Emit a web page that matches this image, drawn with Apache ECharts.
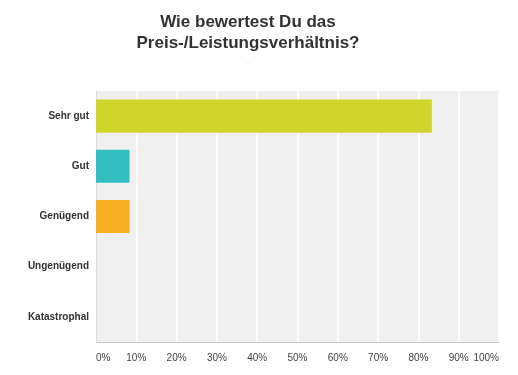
<!DOCTYPE html>
<html>
<head>
<meta charset="utf-8">
<script src="https://cdn.jsdelivr.net/npm/echarts@6/dist/echarts.min.js"></script>
<style>
  html, body { margin: 0; padding: 0; background: #fff; }
  #chart { width: 518px; height: 375px; }
</style>
</head>
<body>
<div id="chart"></div>
<script>
// Antwortkategorien und Anteile (Prozent)
const categories = ['Sehr gut', 'Gut', 'Genügend', 'Ungenügend', 'Katastrophal']
const percentages = [83.33, 8.33, 8.33, 0, 0]
const barColors = ['#cfd52a', '#33bfbf', '#f7ae22', '#9b59b6', '#e74c3c']
const tickStep = 10

const chart = echarts.init(document.getElementById('chart'))

chart.setOption({
  animation: false,
  // Titel
  title: {
    text: 'Wie bewertest Du das\nPreis-/Leistungsverhältnis?',
    subtext: '..',
    left: 243,
    textAlign: 'center',
    top: 7,
    itemGap: 4,
    textStyle: {
      fontFamily: 'Arial, "Liberation Sans", sans-serif',
      fontSize: 17,
      fontWeight: 'bold',
      color: '#333',
      lineHeight: 21
    },
    subtextStyle: {
      fontSize: 6,
      color: '#aaa'
    }
  },
  grid: {
    left: 96,
    right: 19,
    top: 91,
    bottom: 33,
    show: true,
    backgroundColor: '#f0f0f0',
    borderWidth: 0
  },
  xAxis: {
    type: 'value',
    min: 0,
    max: 100,
    interval: tickStep,
    axisLine: { show: true, lineStyle: { color: '#c8c8c8', width: 1 } },
    axisTick: { show: false },
    splitLine: { show: true, lineStyle: { color: '#ffffff', width: 1.5 } },
    axisLabel: {
      formatter: '{value}%',
      margin: 11,
      fontFamily: 'Arial, "Liberation Sans", sans-serif',
      fontSize: 10,
      color: '#444',
      alignMinLabel: 'left',
      alignMaxLabel: 'right'
    }
  },
  yAxis: {
    type: 'category',
    data: categories,
    inverse: true,
    axisLine: { show: true, lineStyle: { color: '#dcdcdc', width: 1 } },
    axisTick: { show: false },
    axisLabel: {
      margin: 7,
      fontFamily: 'Arial, "Liberation Sans", sans-serif',
      fontSize: 10,
      fontWeight: 'bold',
      color: '#333'
    }
  },
  series: [
    {
      type: 'bar',
      data: percentages.map((v, i) => ({ value: v, itemStyle: { color: barColors[i] } })),
      barCategoryGap: '34%'
    }
  ]
})
</script>
</body>
</html>
